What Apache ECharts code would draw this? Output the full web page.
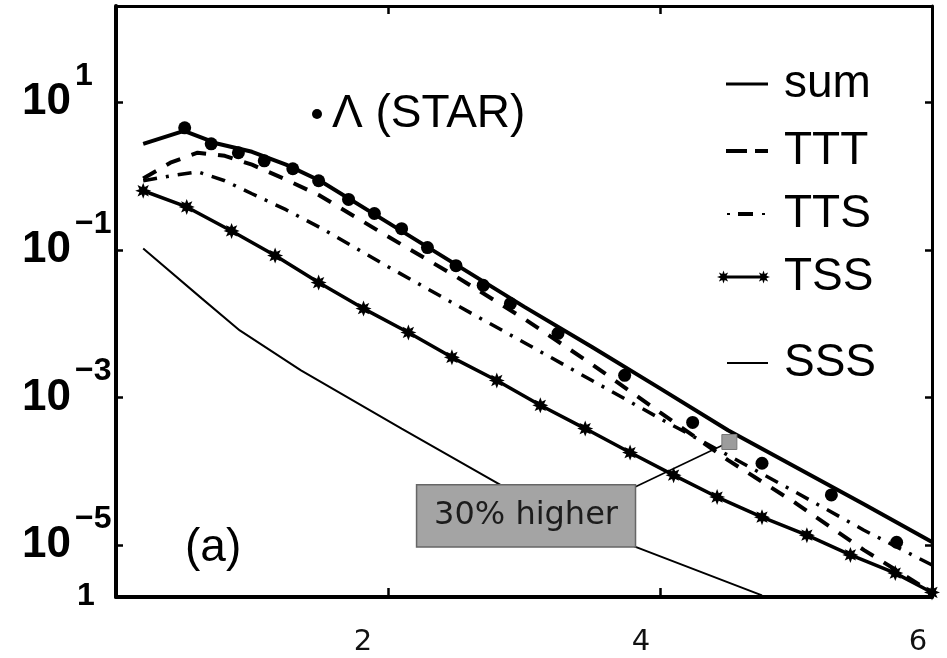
<!DOCTYPE html>
<html>
<head>
<meta charset="utf-8">
<script src="https://cdn.jsdelivr.net/npm/echarts@6/dist/echarts.min.js"></script>
<style>
  html, body { margin: 0; padding: 0; background: #fff; }
  #chart { width: 947px; height: 658px; }
</style>
</head>
<body>
<div id="chart"></div>
<script>
// Λ transverse-momentum spectrum (STAR) with the recombination components
// sum = TTT + TTS + TSS + SSS, drawn on a logarithmic yield scale.

// STAR measurement
const starPt    = [0.505, 0.70, 0.90, 1.09, 1.30, 1.49, 1.71, 1.90, 2.10, 2.29, 2.50, 2.70, 2.90, 3.25, 3.74, 4.24, 4.75, 5.26, 5.74];
const starYield = [4.48, 2.72, 2.06, 1.60, 1.25, 0.86, 0.48, 0.31, 0.193, 0.107, 0.061, 0.033, 0.0187, 0.0074, 0.0020, 4.6e-4, 1.29e-4, 4.8e-5, 1.1e-5];

// total
const sumPt    = [0.2, 0.5, 0.75, 1.0, 1.25, 1.5, 2.0, 2.5, 3.0, 3.5, 4.0, 4.5, 5.0, 5.5, 6.0];
const sumYield = [2.72, 4.08, 2.72, 2.12, 1.42, 0.86, 0.233, 0.063, 0.017, 0.00484, 0.00133, 3.6e-4, 1.14e-4, 3.6e-5, 1.11e-5];

// thermal-thermal-thermal and thermal-thermal-shower
const channelPt = [0.2, 0.4, 0.6, 0.8, 1.0, 1.25, 1.5, 2.0, 2.5, 3.0, 3.5, 4.0, 4.5, 5.0, 5.5, 6.0];
const tttYield  = [0.92, 1.51, 2.06, 1.87, 1.42, 0.89, 0.54, 0.151, 0.0435, 0.0117, 0.00281, 6.3e-4, 1.42e-4, 3.7e-5, 8.6e-6, 2.3e-6];
const ttsYield  = [0.86, 1.0, 1.14, 0.86, 0.574, 0.349, 0.2, 0.059, 0.018, 0.00557, 0.0017, 5.2e-4, 1.66e-4, 5.2e-5, 1.6e-5, 5.4e-6];

// thermal-shower-shower
const tssPt    = [0.2, 0.52, 0.85, 1.17, 1.49, 1.82, 2.15, 2.47, 2.8, 3.12, 3.45, 3.78, 4.1, 4.42, 4.75, 5.08, 5.4, 5.73, 6.0];
const tssYield = [0.63, 0.38, 0.18, 0.0835, 0.036, 0.016, 0.0076, 0.0035, 0.0017, 7.85e-4, 3.8e-4, 1.8e-4, 8.9e-5, 4.5e-5, 2.4e-5, 1.37e-5, 7.4e-6, 4.2e-6, 2.3e-6];

// shower-shower-shower
const sssPt    = [0.2, 0.63, 0.91, 1.36, 2.1, 2.83, 3.82, 4.75];
const sssYield = [0.104, 0.022, 0.0081, 0.00233, 3.8e-4, 6.5e-5, 9.5e-6, 2.1e-6];

// point singled out by the note
const notePt = 4.51;
const noteYield = 2.5e-4;
const noteText = '30% higher';
const noteBox = { x0: 2.21, x1: 3.82, yTop: 6.6e-5, yBottom: 9.5e-6 };

// axes
const xRange = [0, 6];
const xStep = 2;
const yExpRange = [-5.7, 2.3];
const yLabelExponents = [-5, -3, -1, 1];
const yBottomLabel = '1';

const lg = v => Math.log10(v);
const pairs = (xs, ys) => xs.map((x, i) => [x, lg(ys[i])]);

function starPoly(cx, cy, R, r) {
  let d = '';
  for (let i = 0; i < 16; i++) {
    const a = -Math.PI / 2 + i * Math.PI / 8;
    const rad = i % 2 === 0 ? R : r;
    d += (i === 0 ? 'M' : 'L') + (cx + rad * Math.cos(a)).toFixed(2) + ',' + (cy + rad * Math.sin(a)).toFixed(2) + ' ';
  }
  return d + 'Z ';
}
const starSymbol = 'path://' + starPoly(10, 10, 10, 5.2);

// legend glyphs
const iconSum = 'path://M0,0 L42,0 L42,3 L0,3 Z';
const iconTTT = 'path://M0,0 L21,0 L21,4 L0,4 Z M29,0 L42,0 L42,4 L29,4 Z';
const iconTTS = 'path://M0,1 L3,1 L3,3 L0,3 Z M11,0 L26,0 L26,4 L11,4 Z M35,1 L38,1 L38,3 L35,3 Z';
const iconTSS = 'path://' + starPoly(6.5, 6.5, 6.5, 3.2) + 'M6.5,5 L46.5,5 L46.5,8 L6.5,8 Z ' + starPoly(46.5, 6.5, 6.5, 3.2);
const iconSSS = 'path://M0,0 L41,0 L41,2 L0,2 Z';

const sansFont = '"Liberation Sans", Arial, sans-serif';
function legendEntry(name, icon, left, centerY, w, h, padLeft) {
  return {
    data: [{ name: name, icon: icon }],
    left: left, top: centerY - 23,
    itemWidth: w, itemHeight: h, padding: 0,
    selectedMode: false,
    itemStyle: { borderWidth: 0, opacity: 1 },
    textStyle: { fontFamily: sansFont, fontSize: 46, lineHeight: 46, color: '#000', padding: [0, 0, 0, padLeft] }
  };
}

const chart = echarts.init(document.getElementById('chart'));

const option = {
  animation: false,
  backgroundColor: '#fff',
  grid: { left: 116, right: 15, top: 6, bottom: 61, containLabel: false },
  legend: [
    legendEntry('Λ (STAR)', 'circle', 312, 114, 10, 10, 5),
    legendEntry('sum', iconSum, 726, 84, 42, 3, 11),
    legendEntry('TTT', iconTTT, 726, 151, 42, 4, 11),
    legendEntry('TTS', iconTTS, 727, 214, 38, 4, 14),
    legendEntry('TSS', iconTSS, 717, 277, 53, 13, 9),
    legendEntry('SSS', iconSSS, 727, 363, 41, 2, 11)
  ],
  xAxis: [{
    type: 'value', position: 'bottom', min: xRange[0], max: xRange[1], interval: xStep,
    axisLine: { show: true, onZero: false, lineStyle: { color: '#000', width: 4 } },
    axisTick: { show: true, inside: true, length: 9, lineStyle: { color: '#000', width: 2.5 } },
    splitLine: { show: false },
    axisLabel: {
      margin: 31, color: '#111',
      formatter: v => v === 0 ? '' : '{p' + v + '|' + v + '}',
      rich: {
        p2: { fontFamily: '"DejaVu Sans", sans-serif', fontSize: 29, padding: [0, 50, 0, 0] },
        p4: { fontFamily: '"DejaVu Sans", sans-serif', fontSize: 29, padding: [0, 38, 0, 0] },
        p6: { fontFamily: '"DejaVu Sans", sans-serif', fontSize: 29, padding: [0, 28, 0, 0] }
      }
    }
  }, {
    type: 'value', position: 'top', min: xRange[0], max: xRange[1], interval: xStep,
    axisLine: { show: true, onZero: false, lineStyle: { color: '#000', width: 3 } },
    axisTick: { show: true, inside: true, length: 8, lineStyle: { color: '#000', width: 2.5 } },
    splitLine: { show: false },
    axisLabel: { show: false }
  }],
  yAxis: [{
    type: 'value', position: 'left', min: yExpRange[0], max: yExpRange[1],
    axisLine: { show: true, onZero: false, lineStyle: { color: '#000', width: 4 } },
    axisTick: { show: true, inside: true, length: 7, customValues: yLabelExponents, lineStyle: { color: '#000', width: 2.5 } },
    splitLine: { show: false },
    axisLabel: {
      customValues: yLabelExponents,
      showMinLabel: true, showMaxLabel: true, hideOverlap: false,
      align: 'left', margin: 94, color: '#000',
      formatter: v => '{b|10}{s|' + (v < 0 ? '−' : '') + Math.abs(v) + '}',
      rich: {
        b: { fontFamily: sansFont, fontWeight: 'bold', fontSize: 44, lineHeight: 44 },
        s: { fontFamily: sansFont, fontWeight: 'bold', fontSize: 32, lineHeight: 32, padding: [0, 0, 52, 4] }
      }
    }
  }, {
    type: 'value', position: 'right', min: yExpRange[0], max: yExpRange[1],
    axisLine: { show: true, onZero: false, lineStyle: { color: '#000', width: 3 } },
    axisTick: { show: true, inside: true, length: 7, customValues: yLabelExponents, lineStyle: { color: '#000', width: 2.5 } },
    splitLine: { show: false },
    axisLabel: { show: false }
  }, {
    // bottom-end label of the yield axis
    type: 'value', position: 'left', min: yExpRange[0], max: yExpRange[1],
    axisLine: { show: false }, axisTick: { show: false }, splitLine: { show: false },
    axisLabel: {
      customValues: [yExpRange[0] + 0.005], showMinLabel: true,
      align: 'left', margin: 39, color: '#000',
      fontFamily: sansFont, fontWeight: 'bold', fontSize: 32,
      formatter: () => yBottomLabel
    }
  }],
  series: [
    {
      name: 'SSS', type: 'line', data: pairs(sssPt, sssYield), symbol: 'none',
      color: '#000', lineStyle: { color: '#000', width: 2 }, z: 2
    },
    {
      name: 'TSS', type: 'line', data: pairs(tssPt, tssYield),
      symbol: starSymbol, symbolSize: 16, showSymbol: true,
      color: '#000', itemStyle: { color: '#000', borderWidth: 0, opacity: 1 },
      lineStyle: { color: '#000', width: 3.5 }, z: 3
    },
    {
      name: 'TTS', type: 'line', data: pairs(channelPt, ttsYield), symbol: 'none',
      color: '#000', lineStyle: { color: '#000', width: 3.5, type: [14, 9, 3, 9] }, z: 3
    },
    {
      name: 'TTT', type: 'line', data: pairs(channelPt, tttYield), symbol: 'none',
      color: '#000', lineStyle: { color: '#000', width: 4, type: [15, 12] }, z: 3
    },
    {
      name: 'sum', type: 'line', data: pairs(sumPt, sumYield), symbol: 'none',
      color: '#000', lineStyle: { color: '#000', width: 4 }, z: 4
    },
    {
      name: 'Λ (STAR)', type: 'scatter', data: pairs(starPt, starYield),
      symbol: 'circle', symbolSize: 13, itemStyle: { color: '#000', opacity: 1 }, color: '#000', z: 5
    },
    {
      name: 'note', type: 'scatter', data: [[notePt, lg(noteYield)]],
      symbol: 'rect', symbolSize: 15,
      itemStyle: { color: '#9c9c9c', borderColor: '#777', borderWidth: 1, opacity: 1 }, z: 6
    }
  ]
};

chart.setOption(option);

// annotation box and pointer, placed in data coordinates
const toPx = (x, y) => chart.convertToPixel({ xAxisIndex: 0, yAxisIndex: 0 }, [x, lg(y)]);
const tl = toPx(noteBox.x0, noteBox.yTop);
const br = toPx(noteBox.x1, noteBox.yBottom);
const tgt = toPx(notePt, noteYield);

chart.setOption({
  graphic: [
    {
      type: 'line', z: 1,
      shape: { x1: br[0], y1: tl[1] + 2, x2: tgt[0], y2: tgt[1] },
      style: { stroke: '#000', lineWidth: 1.6 }
    },
    {
      type: 'rect', z: 10,
      shape: { x: tl[0], y: tl[1], width: br[0] - tl[0], height: br[1] - tl[1] },
      style: { fill: '#a4a4a4', stroke: '#666', lineWidth: 1.5 }
    },
    {
      type: 'text', z: 11,
      x: (tl[0] + br[0]) / 2, y: (tl[1] + br[1]) / 2,
      style: { text: noteText, fontFamily: '"DejaVu Sans", sans-serif', fontSize: 32, fill: '#1c1c1c', align: 'center', verticalAlign: 'middle' }
    },
    {
      type: 'text', z: 11, x: 185, y: 548,
      style: { text: '(a)', fontFamily: sansFont, fontSize: 46, fill: '#000', align: 'left', verticalAlign: 'middle' }
    }
  ]
});
</script>
</body>
</html>
